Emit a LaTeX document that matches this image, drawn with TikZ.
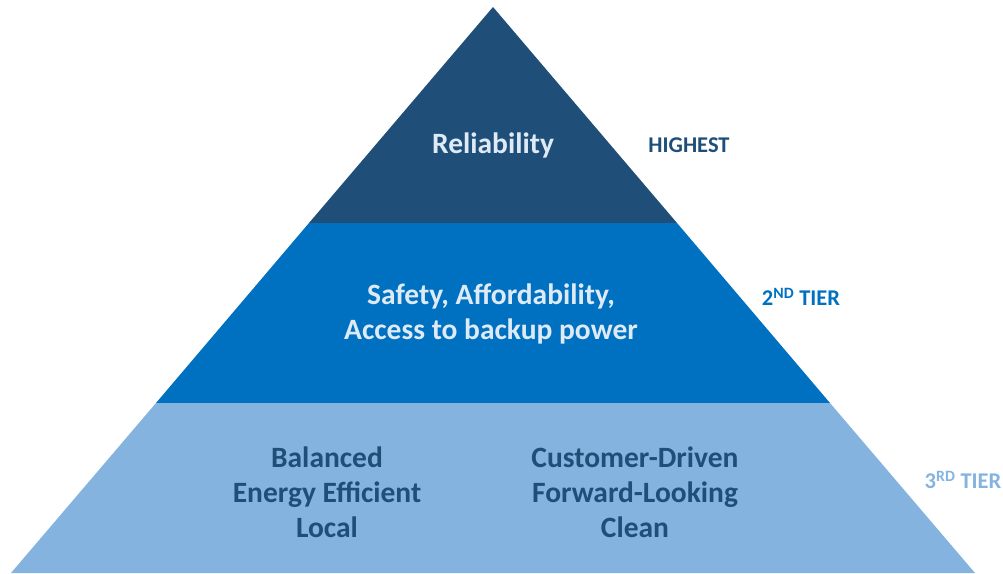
\documentclass[tikz,border=0pt]{standalone}
\usepackage{fontspec}
\setmainfont{Carlito}
\usepackage{xcolor}
\usepackage{tikz}
\definecolor{tierone}{HTML}{1F4E79}
\definecolor{tiertwo}{HTML}{0070C0}
\definecolor{tierthree}{HTML}{84B3E0}
\definecolor{palefont}{HTML}{DEEBF7}
\tikzset{tiertext/.style={align=center, font=\bfseries\fontsize{29.5}{35}\selectfont},
    	rank/.style={anchor=center, font=\bfseries\fontsize{22.5}{25}\selectfont}}

\begin{document}
\begin{tikzpicture}
		[x=1pt, y=-1pt]
		\useasboundingbox (0,0) rectangle (1003,573);
		% corners of the pyramid and the tier cuts
		\coordinate (top) at (493,7);
		\coordinate (l1) at (309,223);
		\coordinate (r1) at (677,223);
		\coordinate (l2) at (156,403);
		\coordinate (r2) at (830,403);
		\coordinate (l3) at (11,573);
		\coordinate (r3) at (975,573);
		\fill[tierone] (top) -- (r1) -- (l1) -- cycle;
		\fill[tiertwo] (l1) -- (r1) -- (r2) -- (l2) -- cycle;
		\fill[tierthree] (l2) -- (r2) -- (r3) -- (l3) -- cycle;
		% texts inside the tiers
		\node[tiertext, text=palefont] (rel) at (493,145) {Reliability};
		\node[tiertext, text=palefont] (safe) at (491,314) {Safety, Affordability,\\Access to backup power};
		\node[tiertext, text=tierone] (bal) at (327,492) {Balanced\\Energy Efficient\\Local};
		\node[tiertext, text=tierone] (cust) at (635,492) {Customer-Driven\\Forward-Looking\\Clean};
		% tier names on the right
		\node[rank, text=tierone] (high) at (689,145) {HIGHEST};
		\node[rank, text=tiertwo] (second) at (801,297) {2\textsuperscript{ND} TIER};
		\node[rank, text=tierthree] (third) at (963,480) {3\textsuperscript{RD} TIER};
		\end{tikzpicture}
\end{document}
